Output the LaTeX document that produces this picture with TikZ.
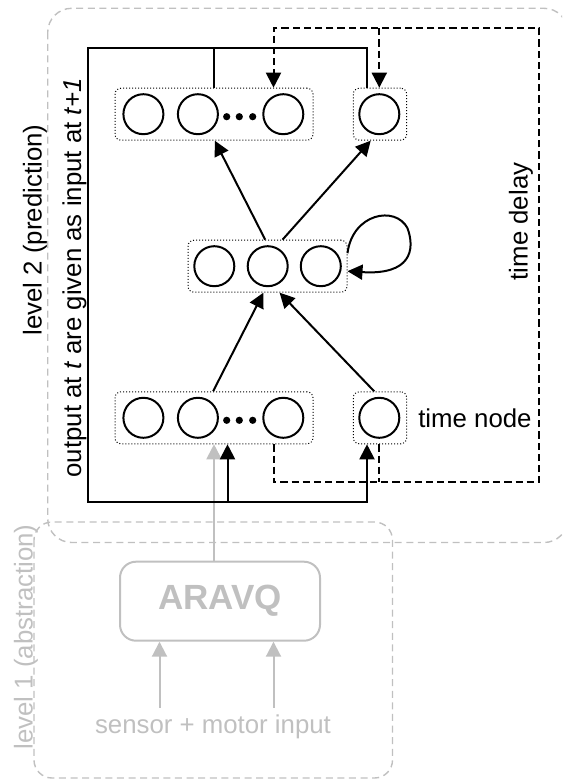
\documentclass[tikz,border=0pt]{standalone}
\usepackage{fontspec}
\setmainfont{Liberation Sans}
\usetikzlibrary{arrows.meta, positioning, calc}
\definecolor{faint}{RGB}{192,192,192}
\tikzset{
    >={Triangle[length=7.5pt, width=7.5pt]},
    neuron/.style={circle, draw, line width=1pt, minimum size=20pt, inner sep=0pt},
    layer/.style={draw, densely dotted, line width=0.5pt, rounded corners=3pt, minimum height=26pt, inner sep=0pt},
    bolddot/.style={circle, fill=black, minimum size=3.6pt, inner sep=0pt},
    wire/.style={line width=1pt},
    delay/.style={line width=1pt, dash pattern=on 3.6pt off 2pt},
    levelbox/.style={draw=faint, line width=0.7pt, dash pattern=on 3.5pt off 2.3pt},
    faded/.style={draw=faint, line width=1pt},
}

\begin{document}
\begin{tikzpicture}[x=0.5pt, y=-0.5pt, font=\fontsize{12.9}{15.5}\selectfont]
    \useasboundingbox (0,0) rectangle (562,780);
    \clip (0,0) rectangle (562,780);
    % the two levels
    \draw[levelbox, rounded corners=12pt] (47.7,8.3) rectangle (568,542.5);
    \draw[levelbox, rounded corners=9pt] (34,522) rectangle (392.5,778);
    % layers
    \node[layer, minimum width=99pt] (outL) at (214,114.2) {};
    \node[layer, minimum width=26.7pt] (outR) at (380,114.2) {};
    \node[layer, minimum width=79.5pt] (mid) at (267.5,266.2) {};
    \node[layer, minimum width=99pt] (inL) at (214,417.8) {};
    \node[layer, minimum width=26.7pt] (inR) at (380,417.8) {};
    \foreach \m in {outL,inL} {
        \foreach \i/\x in {1/143.4,2/197.9,3/283.3}
            \node[neuron] (\m\i) at (\x,0 |- \m.center) {};
        \foreach \i/\x in {1/226.7,2/239.3,3/252.7}
            \node[bolddot] (\m dot\i) at ($(\x,0 |- \m.center)+(0,2.5)$) {};
    }
    \foreach \m in {outR,inR}
        \node[neuron] (\m1) at (379.3,0 |- \m.center) {};
    \foreach \i/\x in {1/214.3,2/267.7,3/320.8}
        \node[neuron] (mid\i) at (\x,0 |- mid.center) {};
    % level 1
    \node[faded, rounded corners=8pt, minimum width=100pt, minimum height=39.5pt, text=faint,
        font=\bfseries\fontsize{17.5}{21}\selectfont] (aravq) at (220,601.2) {ARAVQ};
    \node[text=faint] (sensors) at (213,727) {sensor + motor input};
    \coordinate (senseA) at ($(aravq.south)+(-60.5,0)$);
    \coordinate (senseB) at ($(aravq.south)+(53.5,0)$);
    \foreach \c in {senseA,senseB}
        \draw[faded, ->, color=faint] (\c |- sensors.north) -- (\c);
    \draw[faded, ->, color=faint] (inL.south |- aravq.north) -- (inL.south);
    % forward connections
    \draw[wire, ->] ($(mid.north)+(-2.3,0)$) -- ($(outL.south)+(0.8,0)$);
    \draw[wire, ->] ($(mid.north)+(15,0)$) -- ($(outR.south)+(-9.3,0)$);
    \draw[wire, ->] ($(inL.north)+(-0.9,0)$) -- ($(mid.south)+(-4.1,0)$);
    \draw[wire, ->] ($(inR.north)+(-5.8,0)$) -- ($(mid.south)+(12.1,0)$);
    \draw[wire, ->] ($(mid.east)+(0,-13)$) .. controls +(5,-40) and +(-12,-23) .. ($(mid.east)+(60,-38)$)
        .. controls +(8,22) and +(63,4) .. ($(mid.east)+(0,5)$);
    % output fed back as input
    \coordinate (loopTL) at (87.8,48.3);
    \coordinate (loopBL) at (87.8,501.7);
    \coordinate (inLtap) at ($(inL.south)+(13.5,0)$);
    \draw[wire, ->] ($(outR.north)+(-13,0)$) |- (loopTL) -- (loopBL) -| ($(inR.south)+(-13,0)$);
    \draw[wire] (outL.north) -- (outL.north |- loopTL);
    \draw[wire, ->] (inLtap |- loopBL) -- (inLtap);
    % time delay
    \coordinate (delayTR) at (539,28.3);
    \coordinate (delayBR) at (539,482.3);
    \coordinate (dlyOut) at ($(outL.north)+(59.5,0)$);
    \coordinate (dlyIn) at ($(inL.south)+(59.5,0)$);
    \draw[delay, ->] (dlyIn) |- (delayBR) -- (delayTR) -| (dlyOut);
    \draw[delay] (inR1.south |- inR.south) -- (inR1.south |- delayBR);
    \draw[delay, ->] (outR1.north |- delayTR) -- (outR1.north |- outR.north);
    % labels
    \node[right=2pt of inR] (timenode) {time node};
    \node[rotate=90] (delaylabel) at (521,221.5) {time delay};
    \node[rotate=90] (lvltwo) at (35,230) {level 2 (prediction)};
    \node[rotate=90] (feedback) at (74.5,278) {output at \textit{t} are given as input at \textit{t+1}};
    \node[rotate=90, text=faint] (lvlone) at (26,637) {level 1 (abstraction)};
\end{tikzpicture}
\end{document}
